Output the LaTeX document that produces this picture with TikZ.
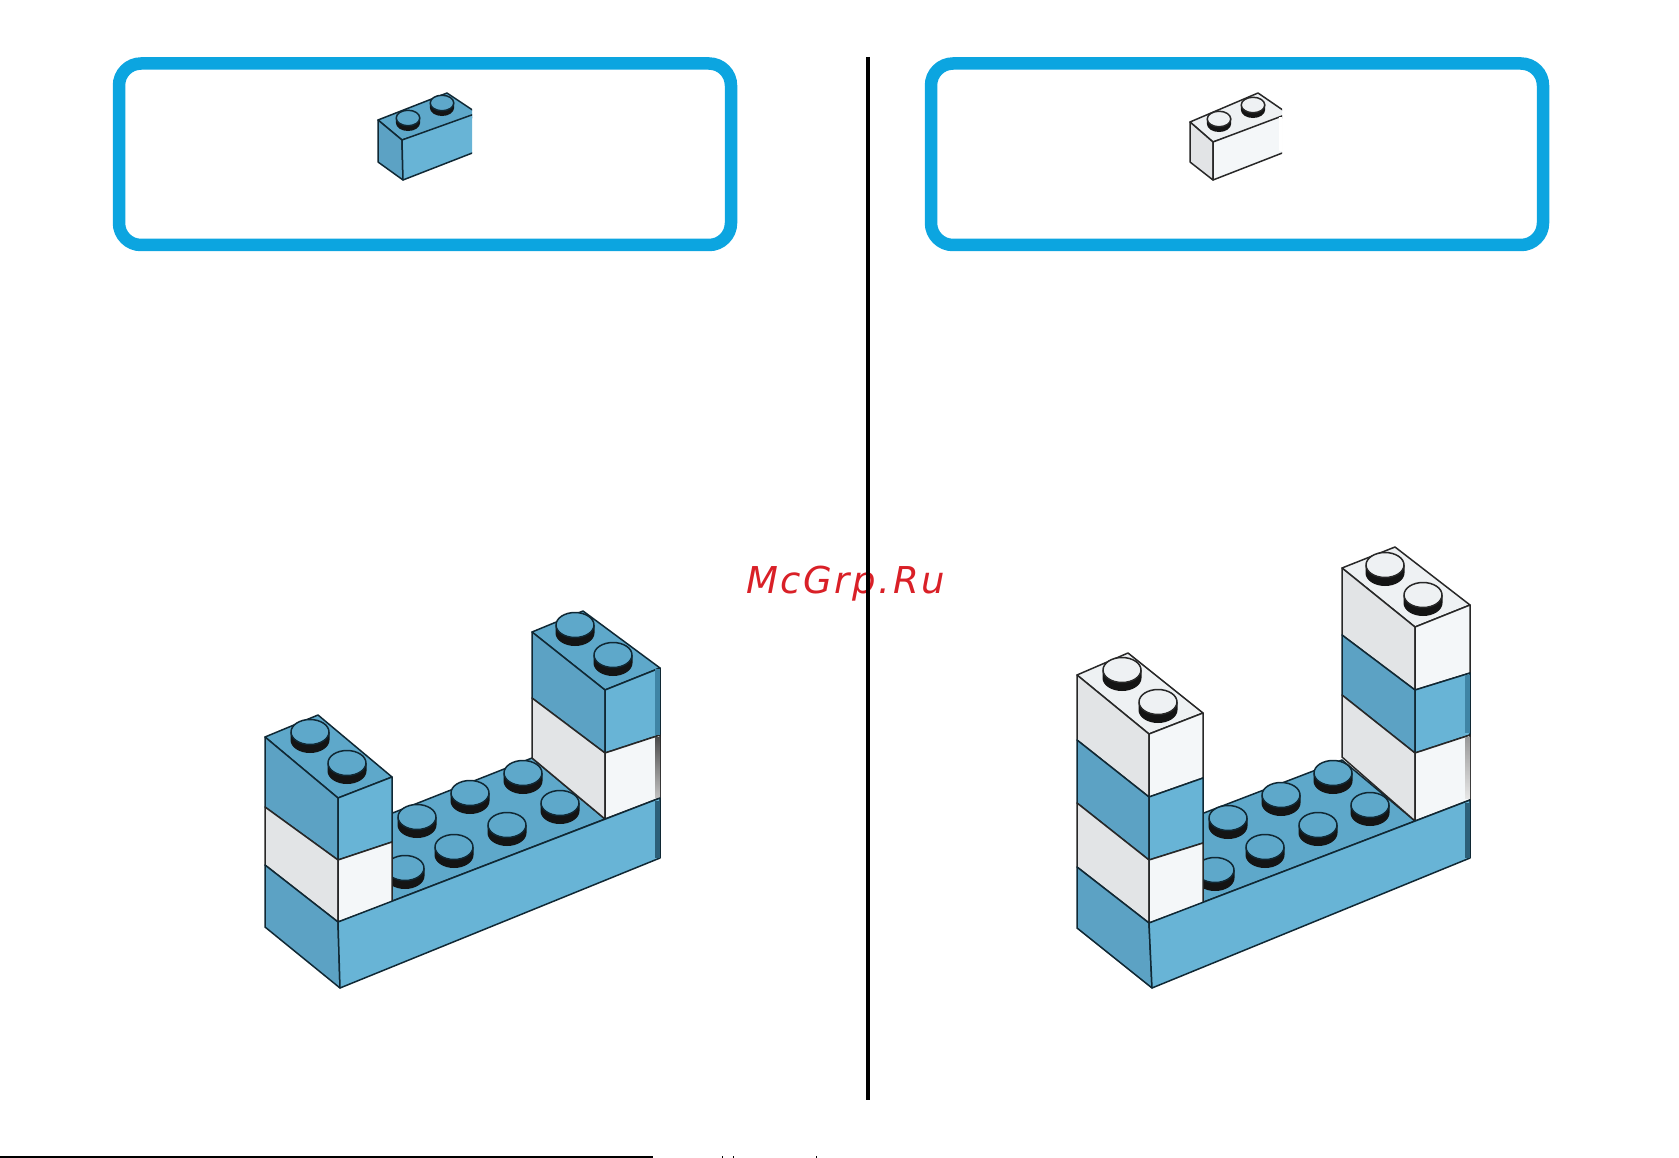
\documentclass[tikz,border=0pt]{standalone}
\usepackage{xcolor}
\usepackage{fontspec}
\usepackage{tikz}
\newfontfamily\markfont[LetterSpace=7]{DejaVu Sans}
\definecolor{frameblue}{HTML}{0CA5E0}
\definecolor{markred}{HTML}{D92027}
\definecolor{stripblue}{HTML}{3F84A5}
\definecolor{stripdark}{HTML}{2C5F78}
\definecolor{blueline}{HTML}{102834}
\definecolor{whiteline}{HTML}{282828}
\tikzset{
  frame/.style={draw=frameblue, line width=12.5pt, rounded corners=22pt},
  blueface/.style={draw=blueline, line width=1.5pt, line join=round},
  whiteface/.style={draw=whiteline, line width=1.5pt, line join=round},
  blueside/.style={blueface, fill={rgb,255:red,92;green,162;blue,196}},
  bluefront/.style={blueface, fill={rgb,255:red,104;green,180;blue,214}},
  bluetop/.style={blueface, fill={rgb,255:red,94;green,168;blue,202}},
  whiteside/.style={whiteface, fill={rgb,255:red,226;green,228;blue,230}},
  whitefront/.style={whiteface, fill={rgb,255:red,244;green,247;blue,249}},
  whitetop/.style={whiteface, fill={rgb,255:red,238;green,241;blue,243}},
  studbase/.style={fill=black!92},
}
% one storey of a tower: colour, then side corners and front corners
\newcommand{\band}[7]{
  \path[#1side] #2 -- #3 -- #6 -- #5 -- cycle;
  \path[#1front] #3 -- #4 -- #7 -- #6 -- cycle;
}
% #1 scale, #2 colour, #3 x, #4 y
\newcommand{\studat}[4]{
  \begin{scope}[shift={(#3,#4)},scale=#1]
    \fill[studbase] (-19.5,0) -- (-19.5,8) arc[start angle=180,end angle=0,x radius=19.5,y radius=13] -- (19.5,0) -- cycle;
    \path[#2top] (0,0) ellipse[x radius=19,y radius=12.5];
  \end{scope}
}
\begin{document}
\begin{tikzpicture}[x=1pt,y=-1pt]
  \useasboundingbox (0,0) rectangle (1679,1158);
  \node[anchor=base west, inner sep=0pt, text=markred, font=\markfont\itshape\fontsize{37pt}{40pt}\selectfont] (mark) at (746,593) {McGrp.Ru};
  \draw[line width=4pt] (868,57) -- (868,1100);
  \draw[line width=1.6pt] (0,1157.2) -- (653,1157.2);
  \foreach \sx in {722,733,816}
    {\draw[line width=1pt] (\sx,1156) -- (\sx,1158);}
  \draw[frame] (119,63.5) rectangle (731,245);
  \draw[frame] (931,63.5) rectangle (1543,245);

  % small bricks
  \begin{scope}
    \clip (370,85) rectangle (472,185);
    \path[bluetop] (378,120) -- (447,93) -- (480,115) -- (402,140) -- cycle;
    \band{blue}{(378,120)}{(402,140)}{(480,112)}{(378,162)}{(403,180)}{(480,150)}
  \end{scope}
  \studat{0.62}{blue}{408}{118}
  \studat{0.62}{blue}{442}{103}
  \begin{scope}
    \clip (1185,85) rectangle (1282,185);
    \path[whitetop] (1190,122) -- (1258,93) -- (1290,115) -- (1213,142) -- cycle;
    \band{white}{(1190,122)}{(1213,142)}{(1290,113)}{(1190,162)}{(1213,180)}{(1290,150)}
    \fill[white] (1279,117) rectangle (1282,151);
  \end{scope}
  \studat{0.62}{white}{1219}{119}
  \studat{0.62}{white}{1253}{105}

  % left model
  \path[bluetop] (385,816) -- (532,758) -- (605,819) -- (338,922) -- cycle;
  \path[bluetop] (532,632) -- (583,611) -- (660,668) -- (605,690) -- cycle;
  \band{blue}{(532,632)}{(605,690)}{(660,668)}{(532,698)}{(605,753)}{(660,735)}
  \band{white}{(532,698)}{(605,753)}{(660,735)}{(532,758)}{(605,819)}{(660,798)}
  \fill[stripblue] (655,669) rectangle (660,735);
  \shade[top color=black!70, bottom color=black!25] (655,737) rectangle (660,797);
  \foreach \sx/\sy in {575/625,613/655,405/868,417/817,470/793,523/773,454/847,507/825,560/803}
    {\studat{1}{blue}{\sx}{\sy}}
  \path[bluetop] (265,737) -- (318,715) -- (392,777) -- (338,798) -- cycle;
  \band{blue}{(265,737)}{(338,798)}{(392,777)}{(265,807)}{(338,860)}{(392,842)}
  \band{white}{(265,807)}{(338,860)}{(392,842)}{(265,865)}{(338,922)}{(392,902)}
  \foreach \sx/\sy in {310/732,347/763}
    {\studat{1}{blue}{\sx}{\sy}}
  \path[blueside] (265,865) -- (338,922) -- (340,988) -- (265,927) -- cycle;
  \path[bluefront] (338,922) -- (660,798) -- (660,858) -- (340,988) -- cycle;
  \fill[stripdark] (655,801) rectangle (660,858);

  % right model
  \path[bluetop] (1196,816) -- (1342,760) -- (1415,821) -- (1149,923) -- cycle;
  \path[whitetop] (1342,568) -- (1395,547) -- (1470,605) -- (1415,627) -- cycle;
  \band{white}{(1342,568)}{(1415,627)}{(1470,605)}{(1342,635)}{(1415,690)}{(1470,673)}
  \band{blue}{(1342,635)}{(1415,690)}{(1470,673)}{(1342,695)}{(1415,753)}{(1470,735)}
  \band{white}{(1342,695)}{(1415,753)}{(1470,735)}{(1342,757)}{(1415,821)}{(1470,800)}
  \fill[stripblue] (1465,675) rectangle (1470,733);
  \shade[top color=black!40, bottom color=black!10] (1465,737) rectangle (1470,798);
  \foreach \sx/\sy in {1385/565,1423/595}
    {\studat{1}{white}{\sx}{\sy}}
  \foreach \sx/\sy in {1215/870,1228/818,1281/795,1333/773,1265/847,1318/825,1370/805}
    {\studat{1}{blue}{\sx}{\sy}}
  \path[whitetop] (1077,675) -- (1128,653) -- (1203,713) -- (1149,734) -- cycle;
  \band{white}{(1077,675)}{(1149,734)}{(1203,713)}{(1077,740)}{(1149,797)}{(1203,778)}
  \band{blue}{(1077,740)}{(1149,797)}{(1203,778)}{(1077,803)}{(1149,860)}{(1203,843)}
  \band{white}{(1077,803)}{(1149,860)}{(1203,843)}{(1077,867)}{(1149,923)}{(1203,903)}
  \foreach \sx/\sy in {1122/670,1158/702}
    {\studat{1}{white}{\sx}{\sy}}
  \path[blueside] (1077,867) -- (1149,923) -- (1152,988) -- (1077,928) -- cycle;
  \path[bluefront] (1149,923) -- (1470,800) -- (1470,858) -- (1152,988) -- cycle;
  \fill[stripdark] (1465,803) rectangle (1470,858);
\end{tikzpicture}
\end{document}
